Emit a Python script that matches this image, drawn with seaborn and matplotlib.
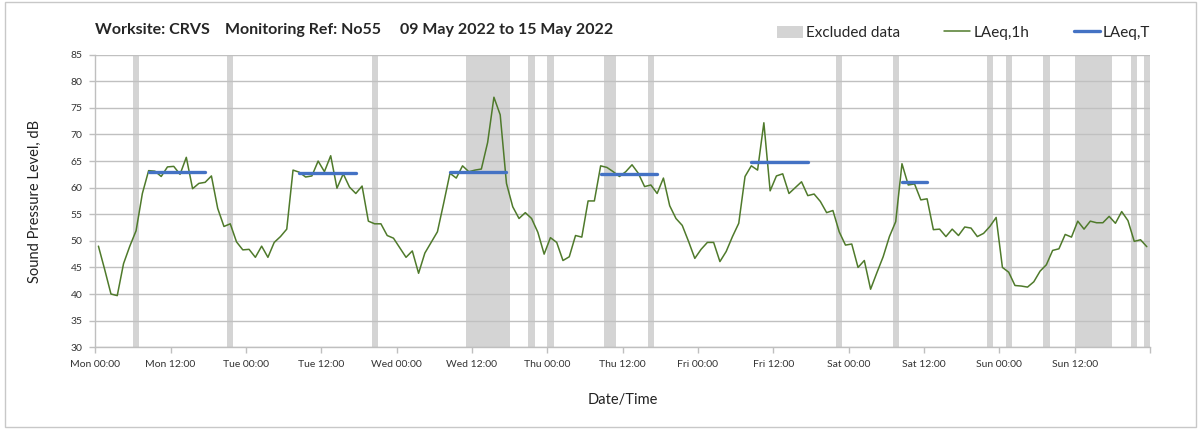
import numpy as np
import pandas as pd
import matplotlib
matplotlib.use("Agg")
import matplotlib.pyplot as plt
from matplotlib.patches import Patch, Rectangle
from matplotlib.lines import Line2D
import seaborn as sns

# hourly LAeq,1h readings (dB), one per hour from Mon 09 May 2022 00:00
laeq_1h = [
    49.0, 44.6, 40.0, 39.7, 45.7, 49.0, 51.9, 58.9, 63.2, 63.1, 62.1, 63.9,
    64.0, 62.5, 65.7, 59.8, 60.8, 61.0, 62.2, 56.1, 52.7, 53.2, 49.8, 48.3,
    48.4, 46.9, 49.0, 46.9, 49.7, 50.8, 52.2, 63.3, 62.9, 62.0, 62.2, 65.0,
    63.0, 66.0, 59.9, 62.6, 60.1, 58.9, 60.3, 53.7, 53.2, 53.2, 51.0, 50.5,
    48.7, 46.9, 48.1, 43.9, 47.7, 49.7, 51.7, 57.1, 62.7, 61.8, 64.1, 63.0,
    63.3, 63.5, 68.5, 77.0, 73.7, 60.8, 56.4, 54.2, 55.3, 54.2, 51.6, 47.5,
    50.6, 49.7, 46.3, 47.0, 51.0, 50.7, 57.5, 57.5, 64.1, 63.8, 63.0, 62.1,
    63.0, 64.3, 62.7, 60.2, 60.5, 58.9, 61.8, 56.6, 54.2, 52.9, 49.9, 46.7,
    48.4, 49.7, 49.7, 46.1, 48.0, 50.8, 53.3, 62.1, 64.1, 63.3, 72.2, 59.4,
    62.2, 62.6, 58.9, 60.0, 61.1, 58.5, 58.8, 57.4, 55.3, 55.7, 51.7, 49.2,
    49.4, 45.0, 46.3, 40.9, 44.0, 47.0, 50.8, 53.6, 64.5, 60.5, 60.7, 57.7,
    57.9, 52.1, 52.2, 50.8, 52.2, 51.0, 52.6, 52.4, 50.8, 51.4, 52.7, 54.4,
    45.0, 44.1, 41.6, 41.5, 41.3, 42.3, 44.3, 45.5, 48.2, 48.5, 51.2, 50.7,
    53.7, 52.2, 53.7, 53.4, 53.4, 54.6, 53.3, 55.5, 53.8, 49.9, 50.2, 48.9,
]

# hours flagged as excluded, counted from Mon 00:00
excluded_hours = [6, 21, 44, 59, 60, 61, 62, 63, 64, 65, 69, 72, 81, 82, 88,
                  118, 127, 142, 145, 151, 156, 157, 158, 159, 160, 161, 165, 167]

# LAeq,T for each daytime period
period_start = ["2022-05-09 08:30", "2022-05-10 08:30", "2022-05-11 08:30",
                "2022-05-12 08:30", "2022-05-13 08:30", "2022-05-14 08:30"]
period_end = ["2022-05-09 17:30", "2022-05-10 17:30", "2022-05-11 17:30",
              "2022-05-12 17:30", "2022-05-13 17:30", "2022-05-14 12:30"]
laeq_t = [62.9, 62.7, 63.0, 62.5, 64.8, 61.1]

tick_labels = ["Mon 00:00", "Mon 12:00", "Tue 00:00", "Tue 12:00", "Wed 00:00",
               "Wed 12:00", "Thu 00:00", "Thu 12:00", "Fri 00:00", "Fri 12:00",
               "Sat 00:00", "Sat 12:00", "Sun 00:00", "Sun 12:00", ""]

start = pd.Timestamp("2022-05-09 00:00")
df = pd.DataFrame({
    "time": pd.date_range("2022-05-09 00:30", periods=len(laeq_1h), freq="h"),
    "LAeq,1h": laeq_1h,
})
periods = pd.DataFrame({
    "period": list(range(len(laeq_t))) * 2,
    "time": pd.to_datetime(period_start + period_end),
    "level": laeq_t * 2,
})

sns.set_theme(style="white")
plt.rcParams["font.family"] = ["Lato", "DejaVu Sans"]

green = "#4f7a2b"
blue = "#4472c4"
grey_band = "#d4d4d4"

fig = plt.figure(figsize=(12.03, 4.34), dpi=100)
fig.patches.append(Rectangle((5 / 1203, 7 / 434), 1191 / 1203, 425 / 434,
                             transform=fig.transFigure, fill=False,
                             edgecolor="#c8c8c8", linewidth=1.0))
ax = fig.add_axes([0.0792, 0.200, 0.8767, 0.674])

# excluded hours
for h in excluded_hours:
    ax.axvspan(start + pd.Timedelta(hours=h), start + pd.Timedelta(hours=h + 1),
               color=grey_band, lw=0, zorder=0.2)

sns.lineplot(data=df, x="time", y="LAeq,1h", color=green, lw=1.1, ax=ax, zorder=3)
sns.lineplot(data=periods, x="time", y="level", units="period", estimator=None,
             color=blue, lw=2.4, ax=ax, zorder=4)

ax.set_xlim(start, start + pd.Timedelta(days=7))
ax.set_ylim(30, 85)
ax.set_yticks(range(30, 86, 5))
ax.set_xticks(pd.date_range(start, periods=15, freq="12h"))
ax.set_xticklabels(tick_labels)
ax.set_xticks(pd.date_range(start, periods=8, freq="24h"), minor=True)

ax.grid(axis="y", which="major", color="#c0c0c0", lw=1.0, zorder=0.5)
ax.grid(axis="x", which="minor", color="#dcdcdc", lw=1.0, zorder=0.5)
ax.grid(axis="x", which="major", visible=False)

for side in ["top", "right"]:
    ax.spines[side].set_visible(False)
for side in ["left", "bottom"]:
    ax.spines[side].set_color("#bfbfbf")
    ax.spines[side].set_linewidth(1.0)

ax.tick_params(axis="both", which="major", bottom=True, left=True, length=4,
               width=1, color="#bfbfbf", labelsize=7.5, labelcolor="#333333", pad=5)
ax.tick_params(axis="x", which="minor", bottom=False, length=0)

ax.set_xlabel("Date/Time", fontsize=10.5, color="#222222")
ax.set_ylabel("Sound Pressure Level, dB", fontsize=10.5, color="#222222")
ax.xaxis.set_label_coords(0.5, -0.155)
ax.yaxis.set_label_coords(-0.051, 0.5)

# title pieces
title_y = 1 - 30 / 434
fig.text(95 / 1203, title_y, "Worksite: CRVS", fontsize=11.5, fontweight="bold", va="center")
fig.text(225 / 1203, title_y, "Monitoring Ref: No55", fontsize=11.5, fontweight="bold", va="center")
fig.text(400 / 1203, title_y, "09 May 2022 to 15 May 2022", fontsize=11.5, fontweight="bold", va="center")

handles = [Patch(facecolor=grey_band, edgecolor="none"),
           Line2D([], [], color=green, lw=1.1),
           Line2D([], [], color=blue, lw=2.4)]
fig.legend(handles, ["Excluded data", "LAeq,1h", "LAeq,T"], loc="center right",
           bbox_to_anchor=(1150 / 1203, 1 - 33 / 434), ncol=3, frameon=False,
           fontsize=11, handlelength=1.7, handleheight=0.9, handletextpad=0.2,
           columnspacing=2.9, borderpad=0, borderaxespad=0)

fig.savefig("out.png", dpi=100)
